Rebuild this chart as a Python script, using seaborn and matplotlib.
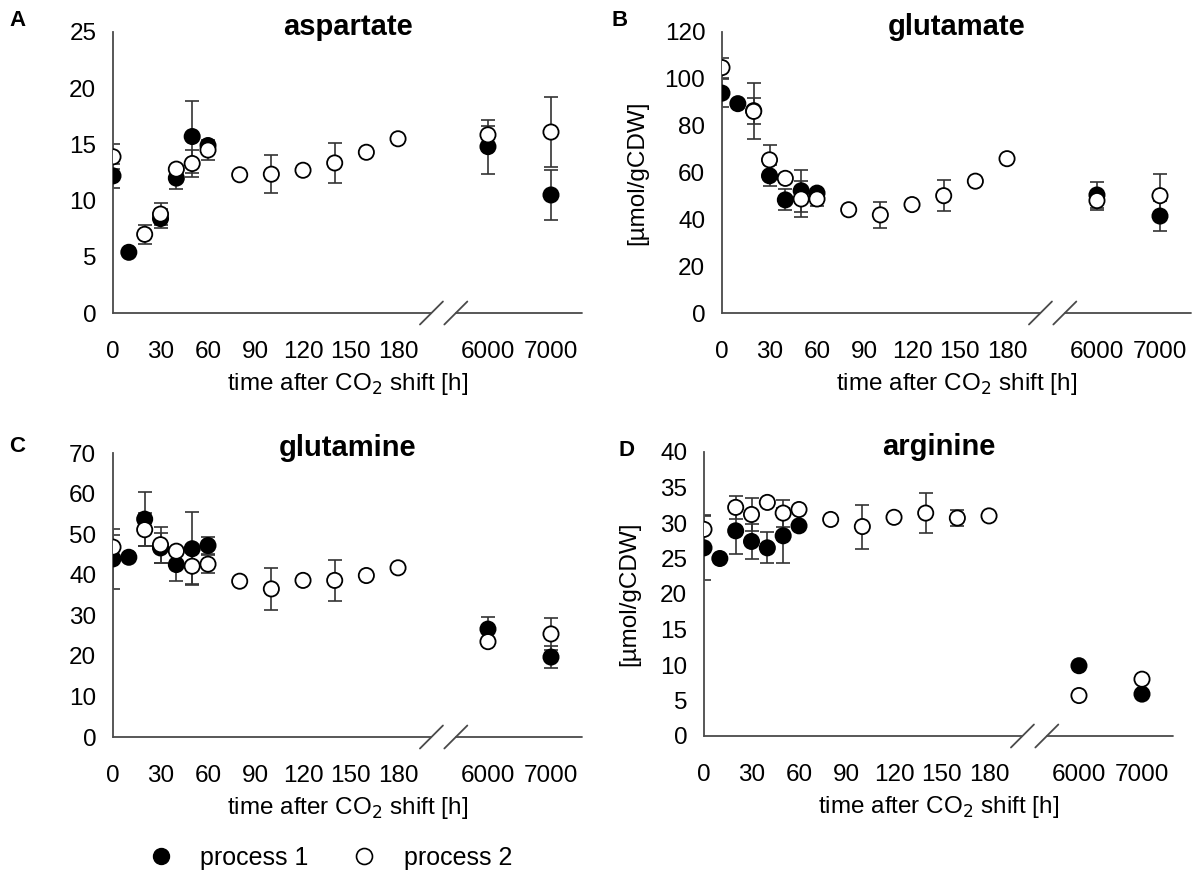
import numpy as np
import pandas as pd
import matplotlib
matplotlib.use("Agg")
import matplotlib.pyplot as plt
from matplotlib.lines import Line2D
import seaborn as sns

sns.set_theme(style="white")
plt.rcParams['font.family'] = ['Liberation Sans', 'DejaVu Sans']
plt.rcParams['text.color'] = 'black'
plt.rcParams['axes.labelcolor'] = 'black'
plt.rcParams['xtick.color'] = 'black'
plt.rcParams['ytick.color'] = 'black'

nan = np.nan

# ---------------- data ----------------
times_p1 = [0, 10, 20, 30, 40, 50, 60, 6000, 7000]
times_p2 = [0, 20, 30, 40, 50, 60, 80, 100, 120, 140, 160, 180, 6000, 7000]

asp_p1 = [12.2, 5.4, nan, 8.4, 12.0, 15.7, 14.9, 14.8, 10.5]
asp_p1_err = [1.1, nan, nan, 0.85, 1.0, 3.2, nan, 2.4, 2.2]
asp_p2 = [13.9, 7.0, 8.8, 12.8, 13.3, 14.5, 12.3, 12.35, 12.7, 13.35, 14.3, 15.5, 15.85, 16.1]
asp_p2_err = [1.1, 0.85, 1.0, nan, 1.2, 0.85, nan, 1.7, nan, 1.8, nan, nan, 0.8, 3.1]

glu_p1 = [93.9, 89.4, 86.4, 58.6, 48.3, 52.2, 51.2, 50.4, 41.4]
glu_p1_err = [6.0, nan, 5.5, 4.5, 4.5, 9.0, nan, 5.6, 6.4]
glu_p2 = [104.8, 86.1, 65.4, 57.5, 48.7, 48.7, 44.1, 41.9, 46.3, 50.1, 56.3, 65.9, 48.0, 50.1]
glu_p2_err = [4.3, 12.0, 6.3, nan, 7.5, 2.8, nan, 5.6, nan, 6.6, nan, nan, 4.0, 9.2]

gln_p1 = [43.9, 44.3, 53.7, 46.6, 42.5, 46.4, 47.2, 26.6, 19.7]
gln_p1_err = [7.3, nan, 6.6, 3.7, 4.1, 9.0, 2.0, 3.0, 2.7]
gln_p2 = [46.8, 51.1, 47.4, 45.8, 42.1, 42.6, 38.4, 36.5, 38.6, 38.6, 39.8, 41.7, 23.5, 25.4]
gln_p2_err = [3.1, 4.0, 4.4, nan, 4.5, 2.3, nan, 5.2, nan, 5.0, nan, nan, nan, 3.9]

arg_p1 = [26.5, 25.0, 28.9, 27.4, 26.5, 28.2, 29.6, 9.9, 5.9]
arg_p1_err = [4.5, nan, 3.2, 2.5, 2.2, 3.9, nan, nan, nan]
arg_p2 = [29.1, 32.2, 31.2, 32.9, 31.4, 31.9, 30.5, 29.5, 30.8, 31.4, 30.7, 31.0, 5.7, 8.0]
arg_p2_err = [2.0, 1.6, 2.3, nan, 1.9, nan, nan, 3.1, nan, 2.8, 1.1, nan, nan, nan]

panel_letters = ["A", "B", "C", "D"]
panel_titles = ["aspartate", "glutamate", "glutamine", "arginine"]
y_max = [25, 120, 70, 40]
y_step = [5, 20, 10, 5]
x_ticks = [0, 30, 60, 90, 120, 150, 180, 6000, 7000]
x_ticklabels = ["0", "30", "60", "90", "120", "150", "180", "6000", "7000"]
series_labels = ["process 1", "process 2"]
ylabel_text = "[µmol/gCDW]"
xlabel_text = "time after CO$_2$ shift [h]"

# broken time axis: linear 0-180, compressed beyond
T_knots = [-1000, 0, 180, 6000, 7000, 9000]
P_knots = [-1000, 0, 180, 236.8, 276.6, 356.2]


def fwd(t):
    return np.interp(t, T_knots, P_knots)


def inv(p):
    return np.interp(p, P_knots, T_knots)


panels = [
    (asp_p1, asp_p1_err, asp_p2, asp_p2_err),
    (glu_p1, glu_p1_err, glu_p2, glu_p2_err),
    (gln_p1, gln_p1_err, gln_p2, gln_p2_err),
    (arg_p1, arg_p1_err, arg_p2, arg_p2_err),
]

W, H = 1202, 882
fig = plt.figure(figsize=(W / 100, H / 100), dpi=100)

# axes boxes in pixels: left, top, right, bottom
boxes = [(113, 32, 582, 313), (722, 32, 1191, 313),
         (113, 453, 582, 737), (704, 452, 1173, 736)]
ylabel_right_px = [None, 648, None, 640]

axis_color = "#4a4a4a"
FS = 17.5

for i, (p1, e1, p2, e2) in enumerate(panels):
    l, t, r, b = boxes[i]
    ax = fig.add_axes([l / W, 1 - b / H, (r - l) / W, (b - t) / H])
    df = pd.DataFrame({
        "time": times_p1 + times_p2,
        "value": p1 + p2,
        "process": [series_labels[0]] * len(times_p1) + [series_labels[1]] * len(times_p2),
    }).dropna()

    ax.set_xscale("function", functions=(fwd, inv))

    ax.errorbar(times_p1, p1, yerr=e1, fmt="none", ecolor="#333333",
                elinewidth=1.2, capsize=4.7, capthick=1.2, zorder=1)
    ax.errorbar(times_p2, p2, yerr=e2, fmt="none", ecolor="#333333",
                elinewidth=1.2, capsize=4.7, capthick=1.2, zorder=1)

    sns.scatterplot(data=df, x="time", y="value", hue="process",
                    palette={series_labels[0]: "black", series_labels[1]: "white"},
                    edgecolor="black", linewidth=1.3, s=120, legend=False,
                    ax=ax, zorder=3)

    ax.set_xlim(0, 7492)
    ax.set_ylim(0, y_max[i])
    ax.set_yticks(np.arange(0, y_max[i] + 0.1, y_step[i]))
    ax.set_xticks(x_ticks)
    ax.set_xticklabels(x_ticklabels)
    ax.tick_params(axis="both", direction="out", width=1.2,
                   color=axis_color, labelsize=FS, labelcolor="black")
    ax.tick_params(axis="x", length=5, pad=15)
    ax.tick_params(axis="y", length=4, pad=8)
    for side in ["top", "right", "bottom"]:
        ax.spines[side].set_visible(False)
    ax.spines["left"].set_color(axis_color)
    ax.spines["left"].set_linewidth(1.3)
    ax.set_facecolor("none")

    # broken bottom axis
    b1, b2 = 0.679, 0.731
    trans = ax.transAxes
    ax.plot([0, b1], [0, 0], color=axis_color, lw=1.3, transform=trans, clip_on=False)
    ax.plot([b2, 1], [0, 0], color=axis_color, lw=1.3, transform=trans, clip_on=False)
    axw = r - l
    axh = b - t
    dx = 11.5 / axw
    dy = 11.5 / axh
    for c in (b1, b2):
        ax.plot([c - dx, c + dx], [-dy, dy], color=axis_color, lw=1.3,
                transform=trans, clip_on=False)

    ax.set_xlabel(xlabel_text, fontsize=FS, labelpad=6)
    if ylabel_right_px[i] is not None:
        ax.set_ylabel(ylabel_text, fontsize=FS)
        ax.yaxis.set_label_coords((ylabel_right_px[i] - l) / axw, 0.5)
    else:
        ax.set_ylabel("")

    ax.text(0.5, 1 + 5 / axh, panel_titles[i], transform=trans, ha="center",
            va="center", fontsize=21, fontweight="bold")

# panel letters
letter_pos = [(17, 20), (620, 20), (17, 447), (627, 450)]
for letter, (x, y) in zip(panel_letters, letter_pos):
    fig.text(x / W, 1 - y / H, letter, ha="center", va="center",
             fontsize=16, fontweight="bold")

handles = [
    Line2D([], [], marker="o", linestyle="none", markerfacecolor="black",
           markeredgecolor="black", markersize=11.5),
    Line2D([], [], marker="o", linestyle="none", markerfacecolor="white",
           markeredgecolor="black", markersize=11.5, markeredgewidth=1.2),
]
fig.legend(handles, series_labels, loc="center left",
           bbox_to_anchor=(148 / W, 1 - 858 / H), ncol=2, frameon=False,
           fontsize=18, handlelength=1.0, handletextpad=1.07,
           columnspacing=1.75, borderpad=0, borderaxespad=0)

fig.savefig("out.png", dpi=100)
